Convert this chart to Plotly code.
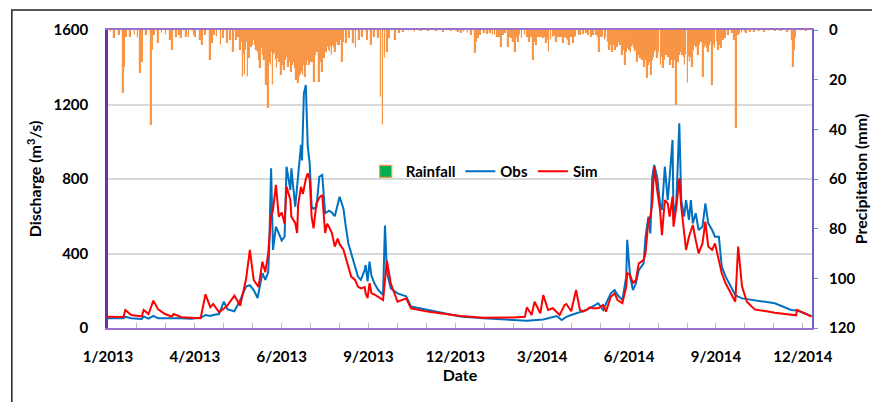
import pandas as pd
import plotly.graph_objects as go

START = pd.Timestamp("2013-01-01")

# ---- Observed discharge (day offset from 1/1/2013, m3/s)
obs_days = [0, 16, 18, 24, 35, 37, 42, 47, 52, 59, 66, 68, 76, 86, 96, 101, 106, 109, 115, 120, 124, 131,
            137, 143, 147, 151, 155, 160, 163, 166, 167, 169, 171, 174, 177, 180, 183, 185, 189, 190, 194,
            197, 200, 201, 203, 205, 207, 209, 211, 213, 216, 219, 222, 225, 229, 232, 235, 240, 244, 246,
            249, 252, 256, 259, 262, 263, 266, 267, 269, 271, 273, 276, 280, 285, 287, 289, 293, 300, 309,
            314, 331, 365, 389, 420, 434, 451, 465, 470, 475, 480, 485, 490, 496, 502, 508, 513, 516, 521,
            525, 528, 533, 537, 538, 541, 544, 547, 550, 555, 557, 560, 562, 564, 566, 569, 572, 574, 577,
            580, 582, 585, 586, 589, 592, 594, 597, 599, 602, 604, 606, 609, 612, 616, 619, 622, 626, 629,
            633, 636, 640, 645, 650, 653, 657, 662, 670, 691, 708, 714, 722, 729]
obs_vals = [52, 52, 60, 52, 48, 62, 50, 65, 52, 52, 52, 55, 52, 50, 55, 70, 65, 70, 75, 141, 100, 90,
            150, 222, 230, 204, 161, 295, 258, 300, 420, 857, 419, 544, 510, 470, 490, 866, 741, 857, 651,
            812, 983, 900, 1260, 1305, 974, 884, 651, 640, 650, 812, 822, 616, 630, 620, 600, 705, 640, 560,
            455, 401, 329, 276, 258, 270, 311, 338, 250, 356, 280, 240, 204, 177, 550, 300, 213, 186, 170,
            115, 97, 62, 52, 43, 39, 46, 64, 43, 60, 70, 79, 88, 97, 115, 133, 97, 133, 186,
            204, 177, 150, 276, 473, 276, 204, 240, 311, 347, 490, 598, 508, 812, 875, 812, 669, 634, 866,
            687, 812, 1010, 580, 687, 1099, 687, 598, 687, 580, 687, 562, 616, 526, 544, 669, 562, 526, 490,
            490, 329, 276, 222, 177, 168, 159, 155, 150, 133, 97, 94, 79, 64]

# ---- Simulated discharge
sim_days = [0, 16, 18, 24, 35, 37, 42, 47, 52, 59, 66, 68, 76, 86, 96, 101, 106, 109, 115, 120, 124, 131,
            137, 143, 147, 151, 156, 160, 163, 166, 169, 171, 174, 177, 180, 183, 185, 189, 190, 194, 196,
            197, 200, 202, 205, 207, 209, 211, 213, 216, 219, 222, 225, 227, 229, 232, 235, 238, 240, 244,
            246, 249, 252, 256, 259, 262, 266, 267, 269, 271, 273, 276, 280, 285, 289, 293, 300, 309, 314,
            331, 365, 389, 420, 432, 434, 439, 442, 448, 451, 456, 461, 468, 473, 475, 480, 485, 489, 492,
            496, 499, 502, 508, 513, 516, 521, 525, 528, 533, 537, 538, 541, 544, 547, 550, 555, 557, 560,
            562, 564, 566, 569, 572, 574, 577, 580, 582, 585, 586, 589, 592, 594, 597, 599, 602, 604, 606,
            609, 612, 616, 619, 622, 626, 629, 633, 636, 640, 645, 650, 653, 657, 662, 670, 691, 708, 713,
            714, 722, 729]
sim_vals = [61, 59, 97, 70, 62, 97, 75, 147, 100, 75, 62, 75, 58, 55, 52, 181, 112, 129, 85, 104, 123, 174,
            120, 260, 419, 258, 220, 356, 300, 400, 600, 634, 768, 598, 620, 560, 759, 687, 598, 564, 510,
            660, 759, 720, 800, 831, 800, 598, 535, 669, 700, 714, 510, 560, 544, 510, 437, 480, 450, 420,
            380, 329, 276, 258, 222, 213, 220, 186, 161, 241, 186, 180, 168, 150, 362, 240, 141, 159, 106,
            88, 64, 55, 57, 60, 111, 70, 141, 79, 177, 97, 106, 70, 123, 129, 90, 204, 97, 88,
            97, 111, 106, 106, 123, 88, 168, 186, 150, 133, 222, 294, 285, 240, 258, 347, 365, 401, 580,
            598, 669, 866, 741, 634, 499, 687, 669, 598, 705, 544, 651, 804, 651, 490, 419, 490, 526, 553,
            472, 401, 454, 571, 437, 419, 454, 365, 294, 240, 186, 141, 437, 222, 141, 100, 82, 70, 68,
            97, 79, 61]

# ---- Daily rainfall (day offset, mm)
rain_days = [3, 7, 12, 16, 17, 19, 23, 28, 31, 34, 36, 40, 45, 46, 48, 52, 56, 60, 65, 67, 71, 74, 76, 81,
             84, 89, 91, 96, 98, 101, 106, 108, 110, 113, 117, 120, 124, 127, 130, 133, 135, 137, 139,
             140, 141, 142, 143, 144, 145, 146, 147, 148, 149, 150, 151, 152, 153, 154, 155, 156, 157, 158,
             159, 160, 161, 162, 163, 164, 165, 166, 167, 168, 169, 170, 171, 172, 173, 174, 175, 176, 177,
             178, 179, 180, 181, 182, 183, 184, 185, 186, 187, 188, 189, 190, 191, 192, 193, 194, 195, 196,
             197, 198, 199, 200, 201, 202, 203, 204, 205, 206, 207, 208, 209, 210, 211, 212, 213, 214, 215,
             216, 217, 218, 219, 220, 221, 222, 223, 224, 225, 226, 227, 228, 229, 230, 231, 232, 233, 234,
             235, 236, 237, 238, 239, 240, 241, 242, 243, 244, 247, 250, 254, 257, 261, 264, 269, 273, 276,
             280, 283, 285, 287, 290, 292, 298, 302, 306, 312, 318, 325, 332, 340, 348, 356, 362,
             363, 366, 369, 373, 377, 381, 382, 384, 386, 390, 393, 396, 399, 401, 404, 406, 408, 410, 412,
             415, 417, 418, 420, 422, 424, 425, 427, 429, 432, 435, 437, 439, 441, 443, 444, 446, 448, 450,
             451, 453, 454, 456, 457, 459, 461, 463, 465, 467, 468, 470, 472, 474, 475, 477, 478, 480, 482,
             484, 485, 488, 490, 493, 496, 498, 501, 503, 506, 508, 509, 511, 513, 515, 516, 518, 520, 521,
             523, 524, 526, 527, 528, 530, 531, 533, 534, 535, 536, 537, 538, 539, 540, 542, 543, 544, 545,
             546, 547, 549, 550, 551, 552, 553, 554, 556, 557, 558, 559, 560, 561, 562, 563, 564, 565, 566,
             567, 569, 570, 571, 573, 574, 575, 576, 577, 578, 579, 580, 581, 583, 584, 585, 586, 587, 588,
             589, 590, 591, 592, 593, 595, 596, 597, 598, 599, 601, 602, 603, 604, 605, 606, 607, 609, 610,
             612, 613, 615, 617, 618, 619, 621, 622, 623, 624, 626, 627, 628, 629, 631, 633, 634, 636, 638,
             640, 643, 647, 649, 651, 653, 655, 657, 660, 662, 666, 670, 675, 680, 686, 692, 698, 704, 709,
             710, 711, 713, 718, 724]
rain_vals = [1, 3.4, 2, 25.5, 14.8, 2.7, 2.7, 2, 3.4, 17.4, 12.8, 2, 38.3, 8, 2, 5.4, 1.3, 2, 4, 8, 2.7, 2,
             3.4, 2.7, 3.4, 2, 2.7, 4, 6, 2, 12, 5.4, 2, 2.7, 6, 3.4, 5.4, 4, 8.7, 4, 3, 8, 5,
             18.8, 10, 18.1, 8, 5, 18.8, 6, 11.4, 5, 7, 6, 4, 3.4, 6, 8, 6, 9, 12, 15.4,
             7.4, 7, 10, 12, 12.1, 22, 14, 31.5, 13, 11, 14.1, 9, 22, 10, 9.4, 12, 15.4, 10, 11.4,
             13, 12, 18, 14, 10, 16.1, 12, 10, 11, 14.8, 13, 12, 16.8, 14, 13, 12, 15.4, 20, 17,
             21.5, 16, 18.8, 18, 17, 18.1, 12, 14, 18.8, 14, 10.7, 12, 14.1, 9, 12.8, 11, 12.8, 20.8, 10,
             8, 9, 8, 20.8, 11, 13, 16.8, 10, 11.4, 9, 8, 9.4, 7, 8, 8.7, 7, 10.1, 6, 5,
             7, 8.7, 5, 4, 6, 6, 4, 3, 12.8, 5, 5.4, 3.4, 5.4, 7.4, 4, 2.7, 4, 6, 2.7,
             3.4, 26.8, 38.3, 11.4, 8.7, 3.4, 4, 1.3, 0.8, 0.6, 0.8, 0.5, 0.6, 0.5, 0.7, 0.5, 0.6,
             1, 1.3, 1, 1.3, 2, 9.4, 5, 3.4, 2, 1.3, 1.5, 1.3, 2, 2, 2.7, 3, 6.7, 2, 1.3,
             6.7, 3, 3.4, 5, 8.7, 3, 4.7, 2, 3.4, 2, 3, 4.7, 3, 12, 5, 6, 3, 2.7, 3,
             3.4, 3, 5.4, 4, 8.7, 4, 3, 2.5, 4.7, 3, 2.7, 3, 5.4, 3, 3.4, 4, 6, 3, 5.4,
             3, 2.7, 2, 2, 1.5, 1.3, 2, 2.7, 2, 2, 3, 8.7, 3, 2.7, 4, 3.4, 5, 8, 6,
             8.7, 6, 8, 5, 7, 4.7, 6, 10.1, 7, 8, 14.1, 9, 7.4, 6, 8, 9.4, 7, 6, 7.4,
             9, 8, 12.8, 9, 10, 11.4, 9, 12, 14.8, 10, 12, 19.5, 14, 12.8, 11, 18.1, 12, 10.7, 9,
             8, 11.4, 10, 9, 14.1, 11, 10, 15.4, 12, 9, 10.1, 8, 11, 14.1, 12, 10, 15.4, 12, 11,
             30.2, 12, 12.8, 10, 9, 10.1, 8, 11, 14.1, 10, 21.5, 11, 12.8, 9, 11, 14.8, 8, 6, 7,
             10.1, 6, 5, 18.8, 7, 6, 7.4, 8.7, 6, 5, 22.1, 7, 6, 7.4, 5, 8, 6, 7.4, 4,
             3.4, 2, 1.3, 4, 39.6, 2, 1.5, 1.3, 1, 1.3, 1, 0.8, 0.6, 0.7, 0.5, 0.6, 0.5, 0.7, 4,
             14.8, 8, 3.4, 0.6, 0.5]

minor_step_days = 30
label_step_days = 90


def to_dates(days):
    return [START + pd.Timedelta(days=d) for d in days]


label_dates = to_dates(range(0, 721, label_step_days))
label_text = [f"{t.month}/{t.year}" for t in label_dates]
minor_dates = to_dates(range(0, 721, minor_step_days))

FONT = "Lato"
fig = go.Figure()
fig.add_trace(go.Bar(
    x=to_dates(rain_days), y=rain_vals, name="Rainfall", yaxis="y2",
    width=86400000 * 0.8,
    marker=dict(color="#00B050", line=dict(color="#F79646", width=1.2)),
))
fig.add_trace(go.Scatter(
    x=to_dates(obs_days), y=obs_vals, name="Obs", mode="lines",
    line=dict(color="#0070C0", width=2),
))
fig.add_trace(go.Scatter(
    x=to_dates(sim_days), y=sim_vals, name="Sim", mode="lines",
    line=dict(color="#FF0000", width=2),
))

# body has an 8px default margin: figure is placed at (8, 8)
tickfont = dict(family=FONT, size=15, color="black", weight="bold")
fig.update_layout(
    width=872, height=394,
    margin=dict(l=100, r=62, t=22, b=74),
    paper_bgcolor="white", plot_bgcolor="white",
    showlegend=True,
    legend=dict(orientation="h", x=0.366, y=0.525, xanchor="left", yanchor="middle",
                bgcolor="rgba(0,0,0,0)", font=dict(family=FONT, size=15, color="black", weight="bold"),
                itemwidth=30, tracegroupgap=0),
    bargap=0,
    xaxis=dict(
        type="date", range=[START, START + pd.Timedelta(days=729.5)],
        tickmode="array", tickvals=label_dates, ticktext=label_text, tickfont=tickfont,
        ticks="inside", ticklen=5, tickcolor="#bfbfbf", tickwidth=1,
        minor=dict(tickmode="array", tickvals=minor_dates, ticks="inside", ticklen=5,
                   tickcolor="#bfbfbf", tickwidth=1, showgrid=False),
        ticklabelstandoff=14,
        showline=True, linecolor="#9a72c9", linewidth=2, mirror=True,
        showgrid=False, zeroline=False,
        title=dict(text="Date", font=dict(family=FONT, size=16, color="black", weight="bold"), standoff=2),
    ),
    yaxis=dict(
        range=[0, 1600], tickvals=[0, 400, 800, 1200, 1600], tickfont=tickfont,
        showgrid=True, gridcolor="#d9d9d9", gridwidth=1.5, zeroline=False,
        showline=True, linecolor="#7030A0", linewidth=2.5,
        ticks="", ticklabelstandoff=14,
        title=dict(text="Discharge (m<sup>3</sup>/s)", font=dict(family=FONT, size=16, color="black", weight="bold"), standoff=8),
    ),
    yaxis2=dict(
        range=[120, 0], overlaying="y", side="right", tickvals=[0, 20, 40, 60, 80, 100, 120],
        tickfont=tickfont, showgrid=False, zeroline=False,
        showline=True, linecolor="#6c62c4", linewidth=2,
        ticks="outside", ticklen=4, tickcolor="#6d8fd4", ticklabelstandoff=8,
        title=dict(text="Precipitation (mm)", font=dict(family=FONT, size=16, color="black", weight="bold"), standoff=1),
    ),
    shapes=[dict(type="rect", xref="paper", yref="paper",
                 x0=(11 - 108) / 710, x1=1.3, y0=-0.5, y1=(328 - 10) / 298,
                 line=dict(color="#222222", width=1.5), fillcolor="rgba(0,0,0,0)", layer="below")],
)

fig.write_html("out.html")
